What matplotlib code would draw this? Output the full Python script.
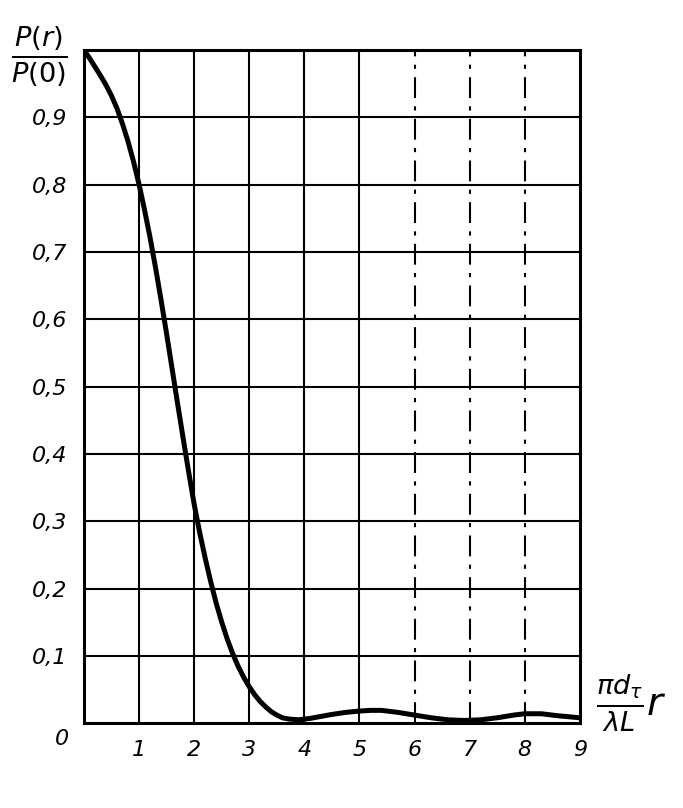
import matplotlib.pyplot as plt
import numpy as np

# curve
x = [0.0, 0.1, 0.2, 0.3, 0.4, 0.5, 0.6, 0.7, 0.8, 0.9, 1.0, 1.1, 1.2, 1.3, 1.4, 1.5,
     1.6, 1.7, 1.8, 1.9, 2.0, 2.1, 2.2, 2.3, 2.4, 2.5, 2.6, 2.7, 2.8, 2.9, 3.0, 3.1,
     3.2, 3.3, 3.4, 3.5, 3.6, 3.73, 3.9, 4.1, 4.3, 4.5, 4.75, 5.0, 5.2, 5.4, 5.7, 6.0,
     6.3, 6.6, 6.9, 7.2, 7.5, 7.8, 8.0, 8.3, 8.6, 9.0]
y = [1.0, 0.988, 0.975, 0.962, 0.948, 0.932, 0.913, 0.890, 0.864, 0.834, 0.800, 0.762,
     0.721, 0.676, 0.628, 0.578, 0.526, 0.474, 0.423, 0.373, 0.325, 0.283, 0.245, 0.210,
     0.178, 0.150, 0.125, 0.103, 0.084, 0.068, 0.054, 0.042, 0.032, 0.024, 0.017, 0.012,
     0.008, 0.006, 0.005, 0.007, 0.010, 0.013, 0.016, 0.018, 0.019, 0.019, 0.016, 0.012,
     0.008, 0.005, 0.004, 0.005, 0.008, 0.012, 0.014, 0.014, 0.011, 0.008]

xticks = [1, 2, 3, 4, 5, 6, 7, 8, 9]
yticks = [0.1, 0.2, 0.3, 0.4, 0.5, 0.6, 0.7, 0.8, 0.9]
ylabels = ['0,1', '0,2', '0,3', '0,4', '0,5', '0,6', '0,7', '0,8', '0,9']

plt.rcParams['font.family'] = 'DejaVu Sans'
fig = plt.figure(figsize=(6.83, 8.08), dpi=100)
ax = fig.add_axes([0.123, 0.105, 0.726, 0.833])

ax.plot(x, y, color='black', lw=3.6, solid_capstyle='round', solid_joinstyle='round')

for xv in xticks[:-1]:
    ls = (0, (10, 4, 2, 4)) if xv in (6, 7, 8) else '-'
    ax.axvline(xv, color='black', lw=1.5, ls=ls)
for yv in yticks:
    ax.axhline(yv, color='black', lw=1.5)

ax.set_xlim(0, 9)
ax.set_ylim(0, 1)
for s in ax.spines.values():
    s.set_linewidth(2.2)
ax.tick_params(length=0, labelsize=16, pad=12)
ax.set_xticks(xticks)
ax.set_xticklabels([str(v) for v in xticks], fontstyle='italic')
ax.set_yticks(yticks)
ax.set_yticklabels(ylabels, fontstyle='italic')

fig.text(0.09, 0.085, '0', fontsize=16, fontstyle='italic', ha='center', va='center')
fig.text(0.058, 0.93, r'$\frac{P(r)}{P(0)}$', fontsize=28, ha='center', va='center')
fig.text(0.925, 0.13, r'$\frac{\pi d_\tau}{\lambda L}r$', fontsize=28, ha='center', va='center')

fig.savefig('out.png', dpi=100)
